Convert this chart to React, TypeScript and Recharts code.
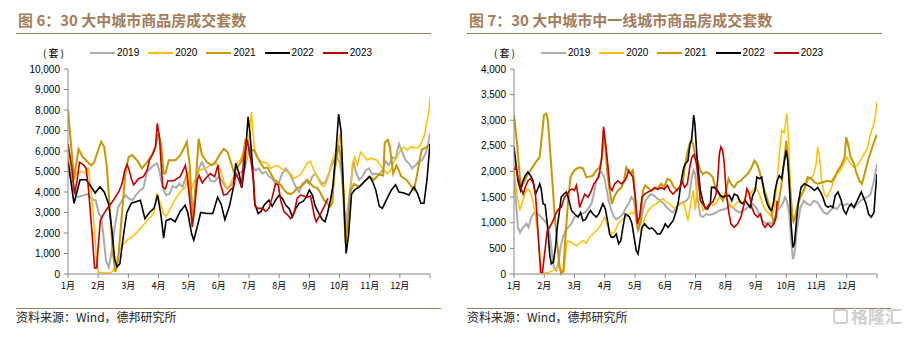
import React from 'react';
import { LineChart, Line, XAxis, YAxis } from 'recharts';

// ---- categories / ticks ----
const monthLabels = ['1月', '2月', '3月', '4月', '5月', '6月', '7月', '8月', '9月', '10月', '11月', '12月'];
const monthTicks = [0, 1, 2, 3, 4, 5, 6, 7, 8, 9, 10, 11, 12];
const years = ['2019', '2020', '2021', '2022', '2023'];
const leftYTicks = [0, 1000, 2000, 3000, 4000, 5000, 6000, 7000, 8000, 9000, 10000];
const rightYTicks = [0, 500, 1000, 1500, 2000, 2500, 3000, 3500, 4000];

// ---- 图6: 30大中城市 (x = month position, 0 = 1月) ----
const left2019: [number, number][] = [[0,5900],[0.19,4100],[0.3,3750],[0.45,3800],[0.63,3900],[0.8,3650],[0.92,3600],[1.02,2950],[1.1,2800],[1.18,1800],[1.26,650],[1.35,330],[1.44,1000],[1.55,2300],[1.66,3250],[1.79,3600],[1.92,3850],[2.0,3700],[2.14,3600],[2.25,3850],[2.4,4100],[2.5,4200],[2.62,5000],[2.73,5150],[2.84,5300],[2.95,5400],[3.03,5050],[3.09,4550],[3.17,4100],[3.25,3850],[3.36,3900],[3.47,4300],[3.58,4200],[3.69,4400],[3.8,4250],[3.91,4750],[4.0,4400],[4.13,2800],[4.24,4250],[4.35,5200],[4.44,5450],[4.57,5050],[4.72,4550],[4.86,4500],[5.0,4750],[5.11,4550],[5.22,4250],[5.33,4200],[5.44,4400],[5.55,4750],[5.66,4900],[5.77,5000],[5.86,5150],[5.94,5700],[6.02,6100],[6.11,5250],[6.22,5050],[6.33,5150],[6.44,4900],[6.55,5000],[6.66,4750],[6.77,4650],[6.88,4400],[7.0,4500],[7.1,4900],[7.22,5150],[7.33,4950],[7.44,4600],[7.55,4250],[7.66,4000],[7.77,4400],[7.88,4550],[8.0,4400],[8.1,4750],[8.21,4900],[8.32,4600],[8.43,4400],[8.54,4500],[8.65,4900],[8.73,5250],[8.82,5550],[8.93,5650],[9.02,5400],[9.09,4600],[9.2,2200],[9.35,4100],[9.46,5500],[9.54,5000],[9.65,4600],[9.76,4750],[9.87,5050],[9.98,5150],[10.09,4850],[10.2,4900],[10.31,4850],[10.42,5050],[10.53,5500],[10.64,5300],[10.75,5700],[10.86,5600],[10.97,6350],[11.08,5950],[11.19,5550],[11.3,5400],[11.41,5150],[11.52,5300],[11.63,5500],[11.74,5550],[11.86,5900],[11.93,6300],[12,6850]];
const left2020: [number, number][] = [[0,5900],[0.19,4550],[0.3,4950],[0.45,5000],[0.6,4900],[0.68,5200],[0.72,4550],[0.8,3600],[0.87,2300],[0.94,800],[1.0,80],[1.2,50],[1.35,50],[1.46,100],[1.57,350],[1.68,1050],[1.8,1400],[1.96,1650],[2.12,1800],[2.29,2050],[2.45,2300],[2.62,2600],[2.73,2750],[2.85,3000],[2.95,3950],[3.05,3500],[3.17,2950],[3.25,2800],[3.45,3350],[3.56,3650],[3.72,4000],[3.9,4250],[3.97,5000],[4.08,4100],[4.2,4550],[4.33,5050],[4.55,5150],[4.72,5300],[4.94,5400],[5.05,5100],[5.16,4550],[5.27,4150],[5.38,4400],[5.49,4750],[5.6,5400],[5.71,5550],[5.82,5950],[5.92,5600],[5.99,6500],[6.08,7900],[6.17,6200],[6.25,5700],[6.38,5500],[6.61,5400],[6.72,5150],[6.83,5250],[6.94,5300],[7.16,5050],[7.38,4900],[7.49,4650],[7.71,4850],[7.93,5400],[8.04,5500],[8.15,5050],[8.26,4750],[8.37,4400],[8.48,4250],[8.6,4600],[8.69,5150],[8.76,5550],[8.87,5950],[8.95,6300],[9.02,6850],[9.1,5400],[9.17,3300],[9.23,1800],[9.28,2450],[9.38,4100],[9.43,5400],[9.5,5700],[9.59,5300],[9.7,5950],[9.92,5550],[10.03,5650],[10.25,5550],[10.36,5300],[10.58,4900],[10.69,5050],[10.8,5500],[10.91,5700],[11.03,6050],[11.14,6200],[11.25,6050],[11.36,6200],[11.58,6150],[11.69,6300],[11.8,6700],[11.89,7350],[11.97,8000],[12,8650]];
const left2021: [number, number][] = [[0,8000],[0.2,4650],[0.35,6100],[0.49,5700],[0.66,5450],[0.77,5300],[0.87,5450],[0.99,6000],[1.1,6450],[1.2,6200],[1.29,5200],[1.4,2900],[1.49,1000],[1.57,100],[1.66,650],[1.77,2600],[1.9,4900],[2.01,5700],[2.12,5800],[2.29,5550],[2.45,5150],[2.62,5450],[2.78,5800],[2.9,6200],[3.0,6850],[3.09,6300],[3.17,4900],[3.23,4900],[3.34,5550],[3.56,5550],[3.72,5800],[3.83,6100],[3.94,6450],[4.03,5400],[4.14,2550],[4.22,4100],[4.33,6600],[4.44,5800],[4.61,5450],[4.77,5300],[4.88,5450],[5.02,5800],[5.16,6100],[5.29,5950],[5.4,5450],[5.49,5000],[5.6,5150],[5.77,5550],[5.88,6500],[5.97,6300],[6.05,6000],[6.17,6050],[6.28,5700],[6.39,5400],[6.5,5150],[6.61,5200],[6.72,4900],[6.83,4600],[6.94,4500],[7.05,4350],[7.16,4100],[7.27,3950],[7.38,3900],[7.49,4000],[7.6,4200],[7.71,4250],[7.82,4400],[7.93,4600],[8.04,4400],[8.15,4250],[8.26,4200],[8.37,3950],[8.49,3600],[8.6,3450],[8.69,3300],[8.76,3450],[8.84,5050],[8.97,6300],[9.05,5600],[9.12,4100],[9.2,1500],[9.28,2450],[9.37,4100],[9.48,4400],[9.65,4250],[9.82,4500],[9.98,4750],[10.15,4600],[10.3,4850],[10.45,4800],[10.5,6400],[10.6,6550],[10.67,6200],[10.78,4900],[10.89,5300],[11.05,4750],[11.22,4600],[11.39,4250],[11.47,4100],[11.56,4750],[11.72,6050],[11.89,6200],[12,6300]];
const left2022: [number, number][] = [[0,5500],[0.2,3450],[0.4,4600],[0.6,4600],[0.75,4300],[0.9,3950],[1.06,4250],[1.2,4000],[1.35,3400],[1.45,2200],[1.55,700],[1.63,350],[1.72,500],[1.83,1800],[1.95,3000],[2.1,3450],[2.3,3550],[2.4,3600],[2.55,2700],[2.7,3000],[2.85,3200],[2.97,3850],[3.08,2900],[3.17,1750],[3.25,2600],[3.4,2700],[3.55,2550],[3.72,3050],[3.88,3350],[3.97,3000],[4.1,1950],[4.17,1650],[4.3,2400],[4.4,3000],[4.6,2950],[4.8,2950],[4.96,3750],[5.08,3400],[5.2,2650],[5.35,3300],[5.48,4200],[5.56,5400],[5.67,4900],[5.76,4200],[5.85,5200],[5.97,7670],[6.03,6900],[6.11,5400],[6.19,3450],[6.3,2950],[6.4,3050],[6.5,3350],[6.66,3600],[6.77,3300],[6.88,3600],[7.0,3850],[7.1,3700],[7.22,3350],[7.33,3200],[7.44,2800],[7.55,3200],[7.66,3450],[7.8,3550],[7.9,3750],[8.0,4100],[8.1,3850],[8.2,3300],[8.32,2950],[8.43,2650],[8.52,2550],[8.6,2950],[8.7,3600],[8.78,4300],[8.88,5900],[8.97,7800],[9.05,7000],[9.13,4100],[9.22,1000],[9.3,1900],[9.4,3900],[9.5,4100],[9.66,4250],[9.82,4500],[10.0,4750],[10.1,4500],[10.2,4100],[10.32,3300],[10.42,3200],[10.55,3600],[10.72,4100],[10.86,4350],[10.97,4000],[11.14,3950],[11.3,3850],[11.47,4250],[11.58,3950],[11.7,3450],[11.8,3450],[11.9,4600],[12,6350]];
const left2023: [number, number][] = [[0,6350],[0.13,5150],[0.22,3900],[0.3,4550],[0.38,5450],[0.5,5350],[0.6,5150],[0.67,4300],[0.8,1950],[0.88,300],[0.95,300],[1.0,1300],[1.07,2600],[1.15,2850],[1.3,3200],[1.46,3500],[1.57,3750],[1.68,4000],[1.79,4400],[1.88,5050],[1.96,5350],[2.03,5050],[2.1,4650],[2.18,4350],[2.34,4650],[2.5,4750],[2.62,5050],[2.7,5550],[2.81,5850],[2.9,6200],[2.96,7350],[3.03,6700],[3.08,5550],[3.14,4250],[3.23,4150],[3.31,4550],[3.5,4550],[3.72,4750],[3.89,5300],[3.95,4800],[4.06,3250],[4.12,2300],[4.2,3250],[4.28,4550],[4.35,4800],[4.45,4450],[4.55,4650],[4.72,4900],[4.86,4750],[4.97,5300],[5.05,4400],[5.16,3850],[5.27,3900],[5.38,4100],[5.49,4250],[5.57,4900],[5.66,4600],[5.75,4250],[5.82,5550],[5.94,6550],[6.06,5550],[6.15,4600],[6.2,3300],[6.3,3200],[6.45,3200],[6.55,3050],[6.66,3200],[6.77,3750],[6.88,4400],[6.97,4350],[7.05,3600],[7.16,3050],[7.27,2900],[7.38,2700],[7.49,2950],[7.6,3700],[7.71,3850],[7.82,3800],[7.93,3750],[8.04,3800],[8.1,3350],[8.17,2800],[8.23,2550],[8.32,2800],[8.43,3100],[8.54,3450],[8.62,3700]];

// ---- 图7: 30大中城市中一线城市 ----
const right2019: [number, number][] = [[0,1890],[0.13,910],[0.2,810],[0.3,910],[0.41,980],[0.48,910],[0.57,1110],[0.68,1200],[0.79,1170],[0.9,1110],[1.01,1040],[1.1,980],[1.18,780],[1.26,390],[1.32,130],[1.4,70],[1.48,260],[1.54,520],[1.62,720],[1.7,850],[1.79,910],[1.9,980],[2.0,1110],[2.12,1140],[2.23,1170],[2.35,1200],[2.45,1270],[2.56,1370],[2.64,1560],[2.72,1820],[2.8,1950],[2.89,1990],[2.98,1890],[3.05,1690],[3.13,1430],[3.22,1240],[3.31,1110],[3.38,1070],[3.49,1110],[3.6,1170],[3.71,1300],[3.79,1370],[3.88,1500],[3.97,1430],[4.04,1040],[4.1,850],[4.18,980],[4.26,1240],[4.34,1430],[4.43,1500],[4.52,1560],[4.63,1530],[4.74,1470],[4.85,1420],[4.96,1370],[5.05,1300],[5.15,1240],[5.26,1200],[5.37,1300],[5.48,1370],[5.59,1400],[5.7,1430],[5.79,1500],[5.86,1820],[5.93,2020],[5.99,1950],[6.06,1500],[6.16,1140],[6.24,1110],[6.35,1170],[6.46,1150],[6.57,1170],[6.68,1200],[6.79,1240],[6.9,1260],[7.01,1270],[7.12,1340],[7.23,1300],[7.34,1240],[7.45,1200],[7.56,1230],[7.67,1270],[7.78,1340],[7.89,1370],[8.0,1300],[8.11,1170],[8.22,1040],[8.33,980],[8.44,1010],[8.55,980],[8.63,1040],[8.71,1240],[8.8,1300],[8.88,1370],[8.96,1500],[9.02,1430],[9.1,1170],[9.16,650],[9.22,290],[9.27,390],[9.36,910],[9.47,1300],[9.58,1430],[9.69,1370],[9.8,1340],[9.91,1430],[10.02,1400],[10.13,1300],[10.24,1200],[10.35,1170],[10.46,1240],[10.57,1300],[10.68,1270],[10.79,1370],[10.9,1340],[11.01,1370],[11.12,1340],[11.24,1300],[11.35,1370],[11.46,1430],[11.57,1470],[11.68,1500],[11.79,1560],[11.9,1820],[11.98,2080],[12,2150]];
const right2020: [number, number][] = [[0,2020],[0.11,1500],[0.19,1240],[0.26,1370],[0.35,1560],[0.44,1660],[0.52,1630],[0.6,1500],[0.68,1240],[0.79,780],[0.87,260],[0.94,30],[1.1,20],[1.23,50],[1.4,100],[1.49,160],[1.58,60],[1.65,40],[1.72,450],[1.76,650],[1.9,620],[2.06,550],[2.17,600],[2.28,650],[2.39,600],[2.5,720],[2.61,780],[2.72,850],[2.83,910],[2.94,1040],[3.0,1110],[3.07,980],[3.16,850],[3.24,780],[3.33,820],[3.44,980],[3.55,1040],[3.66,1110],[3.77,1140],[3.88,1200],[3.96,1180],[4.04,1300],[4.12,910],[4.21,850],[4.3,1040],[4.37,1170],[4.48,1270],[4.6,1340],[4.71,1370],[4.82,1430],[4.93,1470],[5.04,1400],[5.15,1370],[5.26,1300],[5.37,1270],[5.44,1370],[5.53,1400],[5.62,1370],[5.7,1170],[5.75,1040],[5.84,1370],[5.92,1630],[6.0,1250],[6.07,1900],[6.16,1500],[6.24,1240],[6.35,1300],[6.46,1370],[6.57,1340],[6.68,1370],[6.79,1500],[6.9,1530],[7.01,1470],[7.12,1370],[7.23,1300],[7.34,1370],[7.45,1430],[7.56,1400],[7.67,1500],[7.78,1560],[7.89,1630],[8.0,1690],[8.11,1560],[8.22,1370],[8.33,1240],[8.44,1170],[8.53,1110],[8.61,1300],[8.7,1820],[8.77,2350],[8.85,2800],[8.93,2750],[9.02,3130],[9.08,2600],[9.14,1630],[9.22,1040],[9.3,1170],[9.38,1370],[9.49,1560],[9.6,1630],[9.71,1820],[9.82,1860],[9.91,1950],[9.99,2150],[10.04,2480],[10.1,2280],[10.17,1820],[10.26,1560],[10.35,1500],[10.46,1630],[10.57,1820],[10.68,1950],[10.79,2020],[10.9,2150],[11.01,2280],[11.12,2150],[11.24,2080],[11.35,2120],[11.46,2210],[11.57,2350],[11.68,2440],[11.79,2740],[11.87,2870],[11.94,3060],[12,3360]];
const right2021: [number, number][] = [[0,3100],[0.11,2500],[0.19,1900],[0.24,1700],[0.33,1800],[0.41,1900],[0.52,2000],[0.63,2100],[0.74,2200],[0.85,2280],[0.9,2570],[0.99,3100],[1.07,3130],[1.12,3000],[1.21,2280],[1.29,1630],[1.34,1170],[1.43,590],[1.51,130],[1.56,10],[1.63,60],[1.7,720],[1.79,1430],[1.87,1890],[1.95,1990],[2.06,2050],[2.17,2080],[2.28,2060],[2.39,1890],[2.5,1900],[2.61,1920],[2.72,2020],[2.83,2080],[2.91,2280],[2.98,2740],[3.02,2480],[3.09,1950],[3.16,1630],[3.24,1370],[3.33,1530],[3.44,1630],[3.55,1690],[3.64,1820],[3.71,2080],[3.8,2000],[3.88,1950],[3.93,2050],[4.01,1430],[4.1,850],[4.18,1040],[4.26,1630],[4.34,1730],[4.44,1680],[4.54,1630],[4.65,1660],[4.76,1690],[4.87,1760],[4.97,1700],[5.07,1860],[5.18,1820],[5.29,1690],[5.4,1630],[5.5,1720],[5.59,1820],[5.66,2150],[5.75,2410],[5.84,2600],[5.92,2540],[6.0,2280],[6.07,2210],[6.16,2020],[6.24,1950],[6.35,1990],[6.46,1960],[6.57,1890],[6.68,1630],[6.79,1560],[6.9,1430],[7.01,1630],[7.09,1860],[7.17,1760],[7.28,1690],[7.39,1790],[7.5,1820],[7.61,1890],[7.72,1950],[7.83,2050],[7.95,2210],[8.03,2150],[8.11,2020],[8.19,1820],[8.28,1630],[8.39,1430],[8.5,1240],[8.59,980],[8.66,1170],[8.74,1370],[8.83,1690],[8.92,2150],[9.0,2600],[9.05,2280],[9.13,1690],[9.19,1170],[9.24,1020],[9.3,1100],[9.36,1300],[9.47,1500],[9.58,1630],[9.71,1890],[9.82,1870],[9.93,1790],[10.04,1760],[10.21,1790],[10.37,1820],[10.49,1800],[10.6,1890],[10.71,2020],[10.82,2120],[10.93,2280],[10.98,2670],[11.04,2540],[11.13,2280],[11.24,2150],[11.31,1990],[11.42,1820],[11.5,1760],[11.59,1950],[11.7,2210],[11.81,2410],[11.9,2570],[11.98,2700],[12,2700]];
const right2022: [number, number][] = [[0,2480],[0.13,1820],[0.22,1630],[0.3,1820],[0.37,1920],[0.46,1990],[0.55,1920],[0.63,1820],[0.71,1560],[0.78,1650],[0.85,1760],[0.9,1660],[0.96,1370],[1.03,1350],[1.1,980],[1.18,390],[1.23,200],[1.3,230],[1.37,520],[1.43,910],[1.49,1170],[1.56,1500],[1.65,1560],[1.73,1600],[1.79,1500],[1.9,1240],[2.0,1170],[2.12,1110],[2.2,1200],[2.28,1040],[2.36,1060],[2.45,1170],[2.53,1240],[2.61,1170],[2.72,1110],[2.8,1170],[2.89,1300],[2.94,1370],[3.02,1270],[3.11,980],[3.16,780],[3.22,720],[3.3,720],[3.38,780],[3.46,590],[3.53,650],[3.6,910],[3.68,1170],[3.75,1150],[3.82,1110],[3.9,980],[3.97,720],[4.04,460],[4.1,390],[4.15,590],[4.23,910],[4.32,980],[4.4,920],[4.48,880],[4.56,900],[4.65,850],[4.74,780],[4.83,780],[4.93,880],[5.0,980],[5.09,910],[5.18,980],[5.26,1040],[5.37,1240],[5.44,1430],[5.53,1820],[5.61,2080],[5.67,2150],[5.75,2210],[5.82,2540],[5.87,2600],[5.94,3100],[5.98,2930],[6.05,2280],[6.16,1630],[6.24,1430],[6.31,1300],[6.4,1270],[6.49,1370],[6.53,1690],[6.62,1690],[6.73,1630],[6.82,1530],[6.92,1500],[7.01,1530],[7.12,1530],[7.2,1430],[7.28,1560],[7.39,1530],[7.48,1400],[7.56,1370],[7.65,1430],[7.72,1370],[7.81,1300],[7.89,1530],[7.97,1630],[8.03,1890],[8.11,1860],[8.19,1890],[8.28,1560],[8.37,1370],[8.45,1270],[8.52,1240],[8.58,1400],[8.63,1630],[8.7,1820],[8.77,1920],[8.85,1860],[8.92,2150],[9.0,2410],[9.05,2210],[9.11,1630],[9.16,980],[9.22,520],[9.27,590],[9.33,980],[9.4,1400],[9.49,1690],[9.6,1760],[9.71,1730],[9.82,1690],[9.93,1630],[10.04,1690],[10.13,1600],[10.21,1500],[10.3,1340],[10.38,1300],[10.46,1330],[10.54,1300],[10.62,1530],[10.71,1600],[10.82,1430],[10.9,1240],[10.98,1170],[11.06,1300],[11.15,1370],[11.24,1300],[11.32,1400],[11.4,1500],[11.48,1600],[11.57,1470],[11.64,1370],[11.72,1170],[11.81,1110],[11.9,1200],[11.95,1630],[12,1950]];
const right2023: [number, number][] = [[0,2020],[0.06,2100],[0.13,1890],[0.22,1690],[0.3,1560],[0.37,1690],[0.46,1820],[0.55,1860],[0.63,1790],[0.71,1560],[0.77,1040],[0.84,390],[0.88,30],[0.94,30],[1.01,390],[1.1,850],[1.18,910],[1.29,1040],[1.4,1200],[1.48,1270],[1.56,1300],[1.67,1500],[1.76,1560],[1.84,1630],[1.92,1660],[2.0,1630],[2.06,1730],[2.12,1530],[2.17,1300],[2.25,1430],[2.34,1560],[2.45,1500],[2.56,1630],[2.64,1760],[2.72,1820],[2.8,1890],[2.89,2210],[2.96,2870],[3.03,2540],[3.11,2080],[3.17,1690],[3.24,1630],[3.33,1760],[3.44,1820],[3.55,1760],[3.66,1820],[3.72,1890],[3.79,2020],[3.86,1950],[3.93,1890],[4.01,1500],[4.08,980],[4.15,1110],[4.23,1500],[4.32,1560],[4.43,1600],[4.54,1630],[4.65,1690],[4.76,1650],[4.87,1690],[4.97,1650],[5.07,1730],[5.15,1630],[5.26,1560],[5.37,1630],[5.48,1690],[5.55,1820],[5.64,1690],[5.73,1760],[5.81,2080],[5.88,2280],[5.95,2330],[6.03,2150],[6.1,1800],[6.16,1430],[6.24,1370],[6.35,1270],[6.46,1370],[6.57,1400],[6.68,1560],[6.73,1820],[6.79,2350],[6.84,2480],[6.9,2410],[6.95,2150],[7.01,1630],[7.09,1240],[7.17,980],[7.28,910],[7.39,980],[7.5,1110],[7.61,1370],[7.7,1660],[7.78,1560],[7.86,1300],[7.95,1170],[8.06,1110],[8.15,1170],[8.22,980],[8.3,910],[8.39,980],[8.5,910],[8.59,980],[8.66,1110],[8.7,1430]];

// ---- styles ----
const COLORS: Record<string, string> = {
  '2019': '#ABABAB',
  '2020': '#FFC000',
  '2021': '#C39800',
  '2022': '#000000',
  '2023': '#C00000',
};
const WIDTHS: Record<string, number> = { '2019': 2, '2020': 1.5, '2021': 2, '2022': 1.6, '2023': 1.6 };
const BROWN = '#A47C5A';
const AXIS = '#868686';
const LATIN = '"Liberation Sans", Arial, "Noto Sans CJK SC", sans-serif';
const CJK = '"Noto Sans CJK SC", "Liberation Sans", sans-serif';

function merge(series: Record<string, [number, number][]>) {
  const map = new Map<number, Record<string, number | null>>();
  const keys = Object.keys(series);
  for (const key of keys) {
    for (const [x, y] of series[key]) {
      let row = map.get(x);
      if (!row) {
        row = { x };
        for (const k of keys) row['y' + k] = null;
        map.set(x, row);
      }
      row['y' + key] = y;
    }
  }
  return Array.from(map.values()).sort((a, b) => (a.x as number) - (b.x as number));
}

const leftData = merge({ '2019': left2019, '2020': left2020, '2021': left2021, '2022': left2022, '2023': left2023 });
const rightData = merge({ '2019': right2019, '2020': right2020, '2021': right2021, '2022': right2022, '2023': right2023 });

const fmt = (v: number) => v.toLocaleString('en-US');

function Panel(props: { data: any[]; yTicks: number[]; yMax: number; yAxisWidth: number; rightMargin: number; left: number }) {
  const { data, yTicks, yMax, yAxisWidth, rightMargin, left } = props;
  return (
    <div style={{ position: 'absolute', left, top: 0 }}>
      <LineChart width={454} height={300} data={data} margin={{ top: 69, right: rightMargin, bottom: 6, left: 0 }}>
        <XAxis
          type="number"
          dataKey="x"
          domain={[0, 12]}
          ticks={monthTicks}
          interval={0}
          tickFormatter={(v: number) => (v < 12 ? monthLabels[v] : '')}
          height={20}
          tickSize={4}
          tickMargin={5}
          axisLine={{ stroke: AXIS, strokeWidth: 1 }}
          tickLine={{ stroke: AXIS, strokeWidth: 1 }}
          tick={{ fontSize: 9, fill: '#000', fontFamily: CJK }}
          allowDataOverflow
        />
        <YAxis
          type="number"
          domain={[0, yMax]}
          ticks={yTicks}
          interval={0}
          width={yAxisWidth}
          tickSize={4}
          tickMargin={4}
          tickFormatter={fmt}
          axisLine={{ stroke: AXIS, strokeWidth: 1 }}
          tickLine={{ stroke: AXIS, strokeWidth: 1 }}
          tick={{ fontSize: 10, fill: '#000', fontFamily: LATIN }}
        />
        {years.map((y) => (
          <Line
            key={y}
            type="linear"
            dataKey={'y' + y}
            stroke={COLORS[y]}
            strokeWidth={WIDTHS[y]}
            dot={false}
            activeDot={false}
            connectNulls
            isAnimationActive={false}
          />
        ))}
      </LineChart>
    </div>
  );
}

function Legend(props: { unitX: number; firstX: number }) {
  const { unitX, firstX } = props;
  return (
    <>
      <div style={{ position: 'absolute', left: unitX, top: 46, fontSize: 10, fontFamily: CJK, color: '#000', lineHeight: '14px', whiteSpace: 'nowrap', letterSpacing: 2 }}>
        (套)
      </div>
      {years.map((y, i) => (
        <div key={y} style={{ position: 'absolute', left: firstX + i * 58.2, top: 46, height: 14, display: 'flex', alignItems: 'center', whiteSpace: 'nowrap' }}>
          <div style={{ width: 25, height: 2, background: COLORS[y] }} />
          <span style={{ marginLeft: 2, fontSize: 10, fontFamily: LATIN, color: '#000', lineHeight: '14px' }}>{y}</span>
        </div>
      ))}
    </>
  );
}

function Title(props: { x: number; lineLeft: number; lineRight: number; text: string }) {
  return (
    <>
      <div style={{ position: 'absolute', left: props.x, top: 10, fontSize: 15, fontWeight: 700, fontFamily: CJK, color: BROWN, lineHeight: '20px', whiteSpace: 'nowrap' }}>
        {props.text}
      </div>
      <div style={{ position: 'absolute', left: props.lineLeft, top: 33, width: props.lineRight - props.lineLeft, height: 1, background: BROWN }} />
    </>
  );
}

function Source(props: { x: number; lineRight: number }) {
  return (
    <>
      <div style={{ position: 'absolute', left: props.x, top: 308, width: props.lineRight - props.x, height: 1, background: BROWN }} />
      <div style={{ position: 'absolute', left: props.x, top: 308, fontSize: 12, fontFamily: CJK, color: '#222', lineHeight: '17px', whiteSpace: 'nowrap' }}>
        资料来源：Wind，德邦研究所
      </div>
    </>
  );
}

export default function App() {
  return (
    <div style={{ position: 'absolute', left: 0, top: 0, width: 908, height: 337, background: '#fff', overflow: 'hidden' }}>
      <Title x={18} lineLeft={16} lineRight={431} text="图 6：30 大中城市商品房成交套数" />
      <Title x={469} lineLeft={467} lineRight={882} text="图 7：30 大中城市中一线城市商品房成交套数" />
      <Legend unitX={43} firstX={90} />
      <Legend unitX={494} firstX={541} />
      <Panel data={leftData} yTicks={leftYTicks} yMax={10000} yAxisWidth={68} rightMargin={24} left={0} />
      <Panel data={rightData} yTicks={rightYTicks} yMax={4000} yAxisWidth={60} rightMargin={31} left={454} />
      <Source x={16} lineRight={441} />
      <Source x={467} lineRight={891} />
      <div style={{ position: 'absolute', left: 833, top: 306, display: 'flex', alignItems: 'center', color: '#CFCFCF', whiteSpace: 'nowrap' }}>
        <div style={{ width: 15, height: 15, border: '2px solid #CFCFCF', borderRadius: 3, marginRight: 3, boxSizing: 'border-box' }} />
        <span style={{ fontSize: 17, fontWeight: 700, fontFamily: CJK, lineHeight: '20px' }}>格隆汇</span>
      </div>
    </div>
  );
}
